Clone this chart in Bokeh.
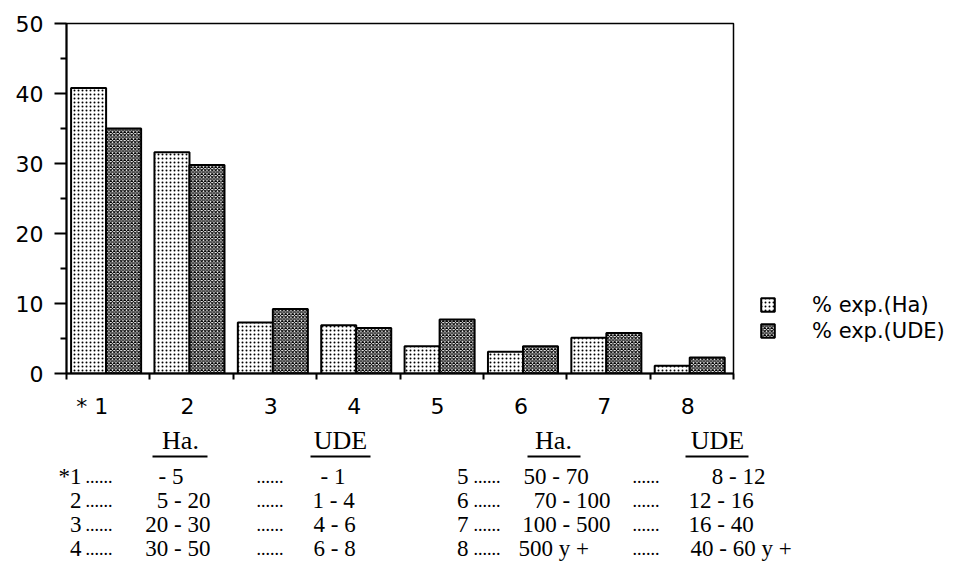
import numpy as np
from bokeh.plotting import figure
from bokeh.models import Range1d, FixedTicker, Legend, LegendItem, ColumnDataSource
from bokeh.layouts import column, row
from bokeh.core.properties import value
from bokeh.embed import file_html
from bokeh.resources import INLINE

# ---------------- data ----------------
categories = ["1", "2", "3", "4", "5", "6", "7", "8"]
cat_labels = ["* 1", "2", "3", "4", "5", "6", "7", "8"]
ha_pct = [40.8, 31.6, 7.3, 6.9, 3.9, 3.1, 5.1, 1.1]
ude_pct = [35.0, 29.8, 9.2, 6.5, 7.7, 3.9, 5.8, 2.3]
series_names = ["% exp.(Ha)", "% exp.(UDE)"]
y_ticks = [0, 10, 20, 30, 40, 50]
y_minor_ticks = [5, 15, 25, 35, 45]

# key table below the chart
row_nums = ["*1", "2", "3", "4", "5", "6", "7", "8"]
ha_ranges = ["- 5", "5 - 20", "20 - 30", "30 - 50", "50 - 70", "70 - 100", "100 - 500", "500 y +"]
ude_ranges = ["- 1", "1 - 4", "4 - 6", "6 - 8", "8 - 12", "12 - 16", "16 - 40", "40 - 60 y +"]
headers = ["Ha.", "UDE", "Ha.", "UDE"]

W = 947
W1 = 735
H1 = 423
H2 = 571 - H1

# ---------------- main chart ----------------
AX_FONT = "DejaVu Sans"
p = figure(width=W1, height=H1, x_range=Range1d(0, len(categories)), y_range=Range1d(0, 50),
           output_backend="svg", toolbar_location=None,
           min_border_left=66, min_border_right=W1 - 733, min_border_top=23,
           min_border_bottom=H1 - 373)
p.xgrid.visible = False
p.ygrid.visible = False
p.outline_line_color = "black"
p.outline_line_width = 1.5
p.background_fill_color = "white"
p.border_fill_color = "white"

idx = np.arange(len(categories))
src = ColumnDataSource(dict(ha_x=idx + 0.265, ude_x=idx + 0.685, ha=ha_pct, ude=ude_pct))

ha_style = dict(fill_color="white", hatch_pattern="dot", hatch_scale=4, hatch_weight=1.6,
                hatch_color="black", line_color="black", line_width=2)
ude_style = dict(fill_color="white", hatch_pattern="diagonal_cross", hatch_scale=3.5,
                 hatch_weight=1.1, hatch_color="black", line_color="black", line_width=2)

p.vbar(x="ha_x", top="ha", width=0.42, source=src, **ha_style)
p.vbar(x="ude_x", top="ude", width=0.42, source=src, **ude_style)

# y axis
p.yaxis.ticker = FixedTicker(ticks=y_ticks, minor_ticks=y_minor_ticks)
p.yaxis.axis_line_width = 2
p.yaxis.major_tick_line_width = 2
p.yaxis.minor_tick_line_width = 2
p.yaxis.major_tick_out = 12
p.yaxis.major_tick_in = 0
p.yaxis.minor_tick_out = 6
p.yaxis.minor_tick_in = 0
p.yaxis.major_label_standoff = 11
p.yaxis.major_label_text_font = AX_FONT
p.yaxis.major_label_text_font_size = "22px"
p.yaxis.major_label_text_color = "black"

# x axis: labels under the bar groups, small ticks at category boundaries
label_pos = [0.31] + [i + 0.45 for i in idx[1:]]
p.xaxis.ticker = FixedTicker(ticks=label_pos, minor_ticks=list(range(len(categories) + 1)))
p.xaxis.major_label_overrides = {c: lab for c, lab in zip(label_pos, cat_labels)}
p.xaxis.axis_line_width = 2
p.xaxis.major_tick_out = 0
p.xaxis.major_tick_in = 0
p.xaxis.minor_tick_out = 6
p.xaxis.minor_tick_in = 0
p.xaxis.minor_tick_line_width = 2
p.xaxis.major_label_standoff = 14
p.xaxis.major_label_text_font = AX_FONT
p.xaxis.major_label_text_font_size = "22px"
p.xaxis.major_label_text_color = "black"

# ---------------- legend panel (right of the chart) ----------------
lf = figure(width=W - W1, height=H1, x_range=Range1d(0, 1), y_range=Range1d(0, 1),
            output_backend="svg", toolbar_location=None, min_border=0,
            x_axis_location=None, y_axis_location=None)
lf.grid.visible = False
lf.outline_line_color = None
lr_ha = lf.vbar(x="ha_x", top="ha", width=0.42, source=src, visible=False, **ha_style)
lr_ude = lf.vbar(x="ude_x", top="ude", width=0.42, source=src, visible=False, **ude_style)
legend = Legend(items=[LegendItem(label=series_names[0], renderers=[lr_ha]),
                       LegendItem(label=series_names[1], renderers=[lr_ude])],
                location=(759 - W1, 30), orientation="vertical",
                glyph_width=17, glyph_height=17, label_height=25, spacing=1,
                padding=0, margin=0, label_standoff=36,
                label_text_font=AX_FONT, label_text_font_size="21px",
                label_text_color="black",
                border_line_color=None, background_fill_alpha=0)
lf.add_layout(legend)

# ---------------- key table ----------------
t = figure(width=W, height=H2, x_range=Range1d(0, W), y_range=Range1d(H1 + H2, H1),
           output_backend="svg", toolbar_location=None, min_border=0,
           x_axis_location=None, y_axis_location=None)
t.grid.visible = False
t.outline_line_color = None

SERIF = value("Liberation Serif")
row_y = [476, 500, 524, 548] * 2
num_x = [81] * 4 + [468] * 4
dots1_x = [85] * 4 + [473] * 4
dots2_x = [256] * 4 + [632] * 4
ha_pos = [(158, "left"), (210, "right"), (210, "right"), (210, "right"),
          (523, "left"), (610, "right"), (610, "right"), (518, "left")]
ude_pos = [(320, "left"), (312, "left"), (313, "left"), (313, "left"),
           (765, "right"), (688, "left"), (688, "left"), (690, "left")]

def put(xs, ys, texts, align, size="23px"):
    t.text(x=xs, y=ys, text=texts, text_align=align, text_baseline="middle",
           text_font=SERIF, text_font_size=size, text_color="black")

put(num_x, row_y, row_nums, "right")
put(dots1_x, row_y, ["......"] * 8, "left", "18px")
put(dots2_x, row_y, ["......"] * 8, "left", "18px")
for align in ("left", "right"):
    sel = [i for i, (_, a) in enumerate(ha_pos) if a == align]
    put([ha_pos[i][0] for i in sel], [row_y[i] for i in sel], [ha_ranges[i] for i in sel], align)
    sel = [i for i, (_, a) in enumerate(ude_pos) if a == align]
    put([ude_pos[i][0] for i in sel], [row_y[i] for i in sel], [ude_ranges[i] for i in sel], align)

head_x = [180, 340, 553, 717]
put(head_x, [440] * 4, headers, "center", "26px")
t.segment(x0=[152, 310, 527, 685], y0=[456] * 4, x1=[207, 370, 580, 748], y1=[456] * 4,
          line_color="black", line_width=2)

layout = column(row(p, lf), t)
open("out.html", "w").write(file_html(layout, INLINE))
